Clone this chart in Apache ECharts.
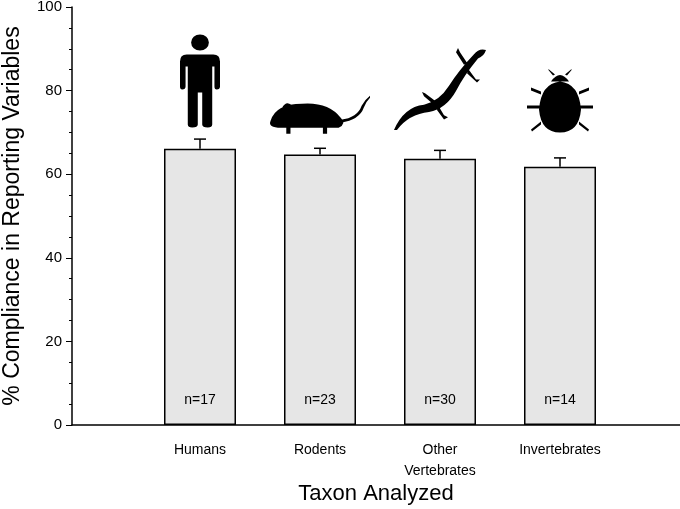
<!DOCTYPE html>
<html><head><meta charset="utf-8">
<script src="https://cdn.jsdelivr.net/npm/echarts@6/dist/echarts.min.js"></script>
<style>html,body{margin:0;padding:0;background:#fff}#c{width:680px;height:509px}</style>
</head><body><div id="c"></div>
<script>
const categories = ['Humans', 'Rodents', 'Other\nVertebrates', 'Invertebrates'];
const compliance = [66.1, 64.7, 63.7, 61.8];
const errors = [2.3, 1.5, 2.0, 2.1];
const sampleLabels = ['n=17', 'n=23', 'n=30', 'n=14'];
const yTicks = [0, 20, 40, 60, 80, 100];

const iconPaths = [
 'path://M12,8 A8,8 0 1,1 28,8 A8,8 0 1,1 12,8 Z M8,20 L32,20 Q38,20 38,27 L38,52 Q38,55 35,55 Q33,55 33,52 L33,32 L31,32 L31,90 Q31,93 27,93 Q22,93 22,90 L22,58 L18,58 L18,90 Q18,93 13,93 Q9,93 9,90 L9,32 L7,32 L7,52 Q7,55 4,55 Q2,55 2,52 L2,27 Q2,20 8,20 Z',
 'path://M5,25 Q10,8 35,8 Q60,6 72,22 Q78,28 70,32 L15,32 Q2,32 5,25 Z M72,24 Q88,22 92,10 Q95,4 100,0 L100,2 Q96,6 94,12 Q90,24 72,27 Z M16,12 Q20,4 26,10 Z M20,32 L24,32 L24,38 L20,38 Z M55,32 L59,32 L59,38 L55,38 Z',
 'path://M0,82 Q10,60 30,58 Q45,55 55,40 Q65,25 80,10 Q85,4 92,6 Q90,12 84,14 Q70,30 62,45 Q52,62 35,65 Q15,67 3,82 Z M40,58 L30,50 L28,46 L31,47 L42,55 Z M45,60 L50,68 L54,70 L50,72 L43,63 Z M70,20 L62,8 L64,4 L66,8 L73,18 Z M75,25 L82,34 L86,34 L83,37 L73,28 Z',
 'path://M33,12 Q52,14 54,40 Q52,63 33,63 Q14,63 12,40 Q14,14 33,12 Z M24,12 Q33,-1 42,12 Z M26,6 L21,0 L22,0 L28,5 Z M40,6 L45,0 L44,0 L38,5 Z M0,36 L66,36 L66,39 L0,39 Z M4,18 L14,22 L14,25 L4,21 Z M62,18 L52,22 L52,25 L62,21 Z M4,60 L14,52 L14,55 L5,62 Z M62,60 L52,52 L52,55 L61,62 Z'
];
const iconY = [82.3, 74.2, 80.4, 77.5];
const iconSize = [[40, 93], [100, 38], [92, 82], [66, 63]];

const font = 'Liberation Sans, Arial, sans-serif';
const chart = echarts.init(document.getElementById('c'));
chart.setOption({
  animation: false,
  textStyle: {fontFamily: font},
  grid: [
    {left: 72, right: 0, top: 7, bottom: 84, outerBoundsMode: 'none', containLabel: false},
    {left: 140, right: 60, top: 7, bottom: 84, outerBoundsMode: 'none', containLabel: false}
  ],
  xAxis: [
    {gridIndex: 0, type: 'value', min: 0, max: 1, axisLabel: {show: false}, axisTick: {show: false}, splitLine: {show: false},
     axisLine: {lineStyle: {color: '#000', width: 1.5}},
     name: 'Taxon Analyzed', nameLocation: 'middle', nameGap: 58, nameTextStyle: {fontSize: 22, color: '#000'}},
    {gridIndex: 1, type: 'category', data: categories, axisLine: {show: false}, axisTick: {show: false},
     axisLabel: {color: '#000', fontSize: 14, margin: 15, lineHeight: 21}}
  ],
  yAxis: [
    {gridIndex: 0, type: 'value', min: 0, max: 100, interval: 20, minorTick: {show: true, splitNumber: 4, length: 3, lineStyle: {color: '#000'}},
     axisLine: {show: true, lineStyle: {color: '#000', width: 1.5}}, axisTick: {show: true, length: 6, lineStyle: {color: '#000'}},
     splitLine: {show: false}, axisLabel: {color: '#000', fontSize: 15, margin: 10,
       formatter: v => yTicks.includes(v) ? String(v) : ''},
     name: '% Compliance in Reporting Variables', nameLocation: 'middle', nameGap: 48, nameRotate: 90,
     nameTextStyle: {fontSize: 23, color: '#000'}},
    {gridIndex: 1, type: 'value', min: 0, max: 100, show: false}
  ],
  series: [
    {type: 'bar', xAxisIndex: 1, yAxisIndex: 1, data: compliance, barWidth: 72,
     itemStyle: {color: '#e6e6e6', borderColor: '#000', borderWidth: 1.5},
     label: {show: true, position: 'insideBottom', distance: 18, color: '#000', fontSize: 14,
       formatter: p => sampleLabels[p.dataIndex]}},
    {type: 'custom', xAxisIndex: 1, yAxisIndex: 1, data: compliance.map((v, i) => [i, v, errors[i]]),
     renderItem: (params, api) => {
       const base = api.coord([api.value(0), api.value(1)]);
       const top = api.coord([api.value(0), api.value(1) + api.value(2)]);
       const s = {stroke: '#000', lineWidth: 1.5};
       return {type: 'group', children: [
         {type: 'line', shape: {x1: base[0], y1: base[1], x2: top[0], y2: top[1]}, style: s},
         {type: 'line', shape: {x1: top[0] - 6, y1: top[1], x2: top[0] + 6, y2: top[1]}, style: s}
       ]};
     }},
    {type: 'scatter', xAxisIndex: 1, yAxisIndex: 1,
     data: iconY.map((y, i) => ({value: [i, y], symbol: iconPaths[i], symbolSize: iconSize[i]})),
     itemStyle: {color: '#000', opacity: 1}}
  ]
});
</script></body></html>
